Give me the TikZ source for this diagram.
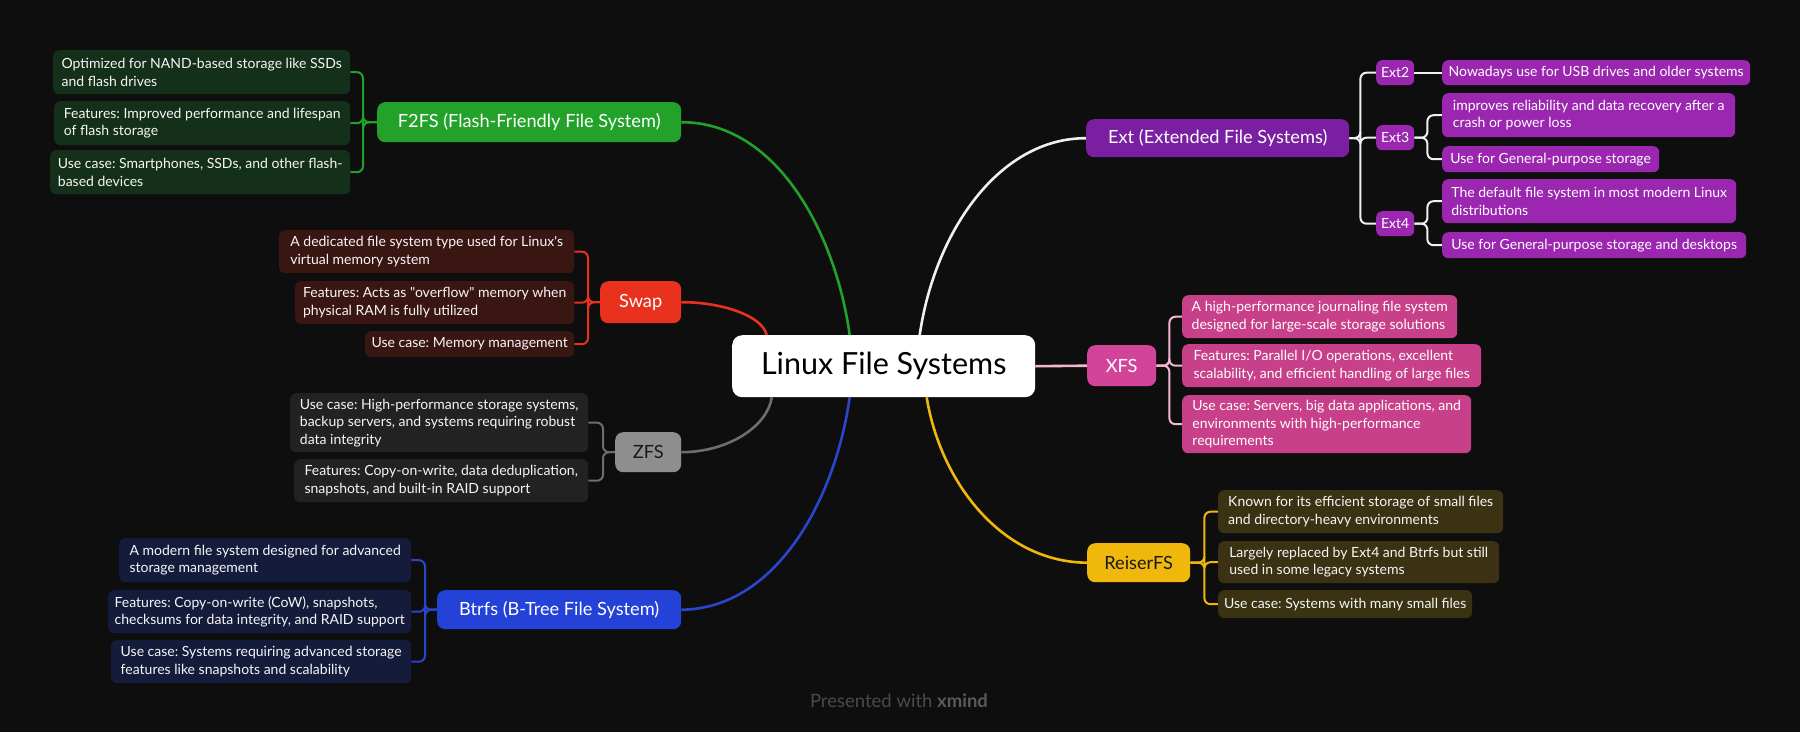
\documentclass[tikz,border=0pt]{standalone}
\usepackage{fontspec}
\setmainfont{Lato}
\newfontfamily\lato{Lato}
\frenchspacing
\definecolor{bgc}{HTML}{0E0E0E}
\definecolor{gmain}{HTML}{22A22A}
\definecolor{gleaf}{HTML}{14301A}
\definecolor{rmain}{HTML}{E8321E}
\definecolor{rleaf}{HTML}{3A1613}
\definecolor{zmain}{HTML}{8E8E8E}
\definecolor{zline}{HTML}{6E6E6E}
\definecolor{zleaf}{HTML}{222222}
\definecolor{bmain}{HTML}{2441D8}
\definecolor{bline}{HTML}{2A46CC}
\definecolor{bleaf}{HTML}{151B3B}
\definecolor{emain}{HTML}{7A1FA2}
\definecolor{esub}{HTML}{9B27B0}
\definecolor{eline}{HTML}{F0F0F0}
\definecolor{xmain}{HTML}{D2449A}
\definecolor{xleaf}{HTML}{C8408A}
\definecolor{xline}{HTML}{F4B6D2}
\definecolor{ymain}{HTML}{F0B80D}
\definecolor{yleaf}{HTML}{3A3212}
\definecolor{leaftext}{HTML}{F6F6F6}
\definecolor{wmc}{HTML}{4A4A4A}
\definecolor{wmb}{HTML}{5A5A5A}
\pgfdeclarelayer{bg}
\pgfsetlayers{bg,main}
\begin{document}
\begin{tikzpicture}[x=1pt,y=-1pt,
  leaf/.style={anchor=north west, rounded corners=6pt, text=leaftext,
    font=\lato\fontsize{14}{17.5}\selectfont, align=left, inner xsep=0pt, inner ysep=2pt},
  topic/.style={anchor=north west, rounded corners=8pt, text=white,
    font=\lato\fontsize{18.2}{21}\selectfont, align=center, inner sep=0pt},
  subtopic/.style={anchor=north west, rounded corners=6pt, text=white, fill=esub,
    font=\lato\fontsize{14}{16}\selectfont, inner sep=0pt, minimum width=38pt, minimum height=25pt},
  mainline/.style={line width=2.6pt},
  brline/.style={line width=2pt, rounded corners=6pt}
]
\begin{pgfonlayer}{bg}
\fill[bgc] (0,0) rectangle (1800,732);
\end{pgfonlayer}
\useasboundingbox (0,0) rectangle (1800,732);

% root
\node[anchor=north west, fill=white, rounded corners=10pt, inner sep=0pt,
  minimum width=303pt, minimum height=62pt, text=black,
  font=\lato\fontsize{30.5}{34}\selectfont] (root) at (732,335) {Linux File Systems};

% F2FS
\node[topic, fill=gmain, minimum width=304pt, minimum height=40pt] (f2fs) at (377,102) {F2FS (Flash-Friendly File System)};
\node[leaf, fill=gleaf, minimum width=297pt, minimum height=44pt] (g1) at (53,50) {Optimized for NAND-based storage like SSDs\\and flash drives};
\node[leaf, fill=gleaf, minimum width=296pt, minimum height=44pt] (g2) at (54,101) {Features: Improved performance and lifespan\\of flash storage};
\node[leaf, fill=gleaf, minimum width=300pt, minimum height=44pt] (g3) at (50,150) {Use case: Smartphones, SSDs, and other flash-\\based devices};

% Swap
\node[topic, fill=rmain, minimum width=81pt, minimum height=42pt] (swap) at (600,281) {Swap};
\node[leaf, fill=rleaf, minimum width=295pt, minimum height=43pt] (r1) at (279,230) {A dedicated file system type used for Linux's\\virtual memory system};
\node[leaf, fill=rleaf, minimum width=279pt, minimum height=43pt] (r2) at (295,281) {Features: Acts as "overflow" memory when\\physical RAM is fully utilized};
\node[leaf, fill=rleaf, minimum width=209pt, minimum height=26pt] (r3) at (365,331) {Use case: Memory management};

% ZFS
\node[topic, fill=zmain, text=black!90, minimum width=66pt, minimum height=40pt] (zfs) at (615,432) {ZFS};
\node[leaf, fill=zleaf, minimum width=298pt, minimum height=59pt] (z1) at (290,393) {Use case: High-performance storage systems,\\backup servers, and systems requiring robust\\data integrity};
\node[leaf, fill=zleaf, minimum width=294pt, minimum height=43pt] (z2) at (294,459) {Features: Copy-on-write, data deduplication,\\snapshots, and built-in RAID support};

% Btrfs
\node[topic, fill=bmain, minimum width=244pt, minimum height=39pt] (btrfs) at (437,590) {Btrfs (B-Tree File System)};
\node[leaf, fill=bleaf, minimum width=292pt, minimum height=44pt] (b1) at (119,538) {A modern file system designed for advanced\\storage management};
\node[leaf, fill=bleaf, minimum width=303pt, minimum height=43pt] (b2) at (108,590) {Features: Copy-on-write (CoW), snapshots,\\checksums for data integrity, and RAID support};
\node[leaf, fill=bleaf, minimum width=300pt, minimum height=43pt] (b3) at (111,640) {Use case: Systems requiring advanced storage\\features like snapshots and scalability};

% Ext
\node[topic, fill=emain, minimum width=263pt, minimum height=38pt] (ext) at (1086,119) {Ext (Extended File Systems)};
\node[subtopic] (ext2) at (1376,60) {Ext2};
\node[subtopic] (ext3) at (1376,125) {Ext3};
\node[subtopic] (ext4) at (1376,211) {Ext4};
\node[leaf, fill=esub, text=white, minimum width=308pt, minimum height=25pt] (e1) at (1442,60) {Nowadays use for USB drives and older systems};
\node[leaf, fill=esub, text=white, minimum width=293pt, minimum height=44pt] (e2) at (1442,93) {improves reliability and data recovery after a\\crash or power loss};
\node[leaf, fill=esub, text=white, minimum width=217pt, minimum height=26pt] (e3) at (1442,146) {Use for General-purpose storage};
\node[leaf, fill=esub, text=white, minimum width=294pt, minimum height=44pt] (e4) at (1442,179) {The default file system in most modern Linux\\distributions};
\node[leaf, fill=esub, text=white, minimum width=304pt, minimum height=26pt] (e5) at (1442,232) {Use for General-purpose storage and desktops};

% XFS
\node[topic, fill=xmain, minimum width=69pt, minimum height=41pt] (xfs) at (1087,345) {XFS};
\node[leaf, fill=xleaf, text=white, minimum width=275pt, minimum height=43pt] (x1) at (1182,295) {A high-performance journaling file system\\designed for large-scale storage solutions};
\node[leaf, fill=xleaf, text=white, minimum width=299pt, minimum height=43pt] (x2) at (1182,344) {Features: Parallel I/O operations, excellent\\scalability, and efficient handling of large files};
\node[leaf, fill=xleaf, text=white, minimum width=289pt, minimum height=58pt] (x3) at (1182,395) {Use case: Servers, big data applications, and\\environments with high-performance\\requirements};

% ReiserFS
\node[topic, fill=ymain, text=black!90, minimum width=103pt, minimum height=39pt] (reiser) at (1087,543) {ReiserFS};
\node[leaf, fill=yleaf, minimum width=285pt, minimum height=43pt] (y1) at (1218,490) {Known for its efficient storage of small files\\and directory-heavy environments};
\node[leaf, fill=yleaf, minimum width=281pt, minimum height=42pt] (y2) at (1218,541) {Largely replaced by Ext4 and Btrfs but still\\used in some legacy systems};
\node[leaf, fill=yleaf, minimum width=254pt, minimum height=28pt] (y3) at (1218,590) {Use case: Systems with many small files};

% watermark
\node[font=\lato\fontsize{18.5}{22}\selectfont, text=wmc, inner sep=0pt] (wm) at (899,701) {Presented with \textcolor{wmb}{\textbf{xmind}}};

\begin{pgfonlayer}{bg}
% main branches
\draw[mainline, gmain] ([xshift=-34pt]root.north) .. controls (835,230) and (775,122) .. (f2fs.east);
\draw[mainline, eline] ([xshift=36pt]root.north) .. controls (935,230) and (1000,138) .. (ext.west);
\draw[mainline, rmain] ([xshift=-117pt]root.north) .. controls (762,315) and (720,302) .. (swap.east);
\draw[mainline, zline] ([xshift=-112pt]root.south) .. controls (768,425) and (730,452) .. (zfs.east);
\draw[mainline, bline] ([xshift=-34pt]root.south) .. controls (835,501) and (775,609) .. (btrfs.east);
\draw[mainline, ymain] ([xshift=43pt]root.south) .. controls (940,480) and (1000,562) .. (reiser.west);
\draw[mainline, xline] (root.east) -- (xfs.west);

% F2FS brackets
\draw[brline, gmain] (f2fs.west) -- ([xshift=-14pt]f2fs.west) |- (g1.east);
\draw[brline, gmain] (f2fs.west) -- ([xshift=-14pt]f2fs.west) |- (g2.east);
\draw[brline, gmain] (f2fs.west) -- ([xshift=-14pt]f2fs.west) |- (g3.east);
% Swap
\draw[brline, rmain] (swap.west) -- ([xshift=-12pt]swap.west) |- (r1.east);
\draw[brline, rmain] (swap.west) -- ([xshift=-12pt]swap.west) |- (r2.east);
\draw[brline, rmain] (swap.west) -- ([xshift=-12pt]swap.west) |- (r3.east);
% ZFS
\draw[brline, zline] (zfs.west) -- ([xshift=-12pt]zfs.west) |- (z1.east);
\draw[brline, zline] (zfs.west) -- ([xshift=-12pt]zfs.west) |- (z2.east);
% Btrfs
\draw[brline, bline] (btrfs.west) -- ([xshift=-12pt]btrfs.west) |- (b1.east);
\draw[brline, bline] (btrfs.west) -- ([xshift=-12pt]btrfs.west) |- (b2.east);
\draw[brline, bline] (btrfs.west) -- ([xshift=-12pt]btrfs.west) |- (b3.east);
% Ext
\draw[brline, eline] (ext.east) -- ([xshift=11pt]ext.east) |- (ext2.west);
\draw[brline, eline] (ext.east) -- ([xshift=11pt]ext.east) |- (ext3.west);
\draw[brline, eline] (ext.east) -- ([xshift=11pt]ext.east) |- (ext4.west);
\draw[brline, eline] (ext2.east) -- (e1.west);
\draw[brline, eline] (ext3.east) -- ([xshift=13pt]ext3.east) |- (e2.west);
\draw[brline, eline] (ext3.east) -- ([xshift=13pt]ext3.east) |- (e3.west);
\draw[brline, eline] (ext4.east) -- ([xshift=13pt]ext4.east) |- (e4.west);
\draw[brline, eline] (ext4.east) -- ([xshift=13pt]ext4.east) |- (e5.west);
% XFS
\draw[brline, xline] (xfs.east) -- ([xshift=13pt]xfs.east) |- (x1.west);
\draw[brline, xline] (xfs.east) -- ([xshift=13pt]xfs.east) |- (x2.west);
\draw[brline, xline] (xfs.east) -- ([xshift=13pt]xfs.east) |- (x3.west);
% ReiserFS
\draw[brline, ymain] (reiser.east) -- ([xshift=14pt]reiser.east) |- (y1.west);
\draw[brline, ymain] (reiser.east) -- ([xshift=14pt]reiser.east) |- (y2.west);
\draw[brline, ymain] (reiser.east) -- ([xshift=14pt]reiser.east) |- (y3.west);
\end{pgfonlayer}
\end{tikzpicture}
\end{document}
